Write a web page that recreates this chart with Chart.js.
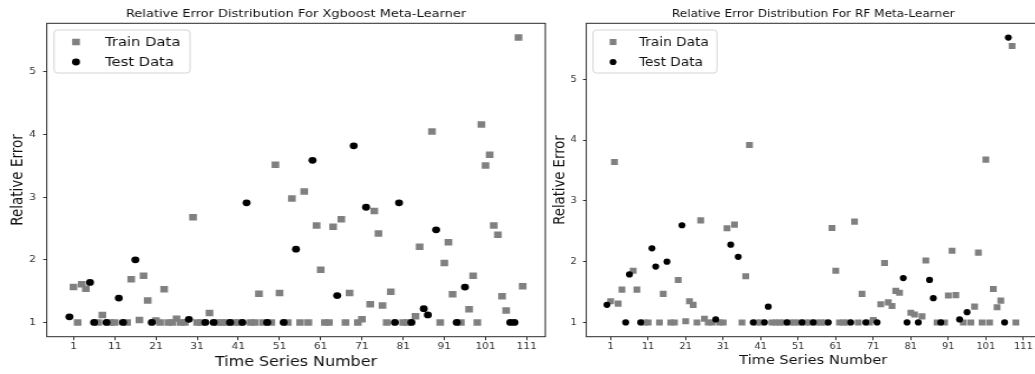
<!DOCTYPE html>
<html>
<head>
<meta charset="utf-8">
<title>Relative Error Distribution</title>
<script src="https://cdn.jsdelivr.net/npm/chart.js@4/dist/chart.umd.min.js"></script>
<style>
    html, body { margin: 0; padding: 0; background: #fff; overflow: hidden; width: 1035px; height: 374px; }
    .panel { position: absolute; top: 0; height: 374px; transform-origin: 0 0; }
    #panelXgb { left: 0; width: 468px; transform: scaleX(1.18); }
    #panelRf { left: 552px; width: 443px; transform: scaleX(1.12); }
    canvas { display: block; }
</style>
</head>
<body>
<div class="panel" id="panelXgb"><canvas id="xgbChart" width="468" height="374"></canvas></div>
<div class="panel" id="panelRf"><canvas id="rfChart" width="443" height="374"></canvas></div>

<script>
// ━━━━━━━━━━━━━━━━━━━━━━━━━━━━━━━━━━━━━━━━━━━━━━━━━━━━━━━━━━━━━━━━━━━━━━━━━━
// DATA — relative error per time series (index 0..n), test series listed apart
// ━━━━━━━━━━━━━━━━━━━━━━━━━━━━━━━━━━━━━━━━━━━━━━━━━━━━━━━━━━━━━━━━━━━━━━━━━━

const seriesTicks = [1, 11, 21, 31, 41, 51, 61, 71, 81, 91, 101, 111];
const errorTicks = [1, 2, 3, 4, 5];

const xgbError = [
    1.09, 1.565, 1.0, 1.61, 1.54, 1.64, 1.0, 1.0, 1.12, 1.0,
    1.0, 1.0, 1.39, 1.0, 1.0, 1.69, 2.0, 1.04, 1.745, 1.35,
    1.0, 1.03, 1.0, 1.53, 1.0, 1.0, 1.06, 1.0, 1.0, 1.05,
    2.68, 1.0, 1.0, 1.0, 1.15, 1.0, 1.0, 1.0, 1.0, 1.0,
    1.0, 1.0, 1.0, 2.91, 1.0, 1.0, 1.46, 1.0, 1.0, 1.0,
    3.52, 1.47, 1.0, 1.0, 2.98, 2.17, 1.0, 3.09, 1.0, 3.59,
    2.55, 1.84, 1.0, 1.0, 2.53, 1.43, 2.65, 1.0, 1.47, 3.82,
    1.0, 1.05, 2.84, 1.29, 2.78, 2.42, 1.27, 1.0, 1.49, 1.0,
    2.91, 1.0, 1.0, 1.0, 1.10, 2.21, 1.22, 1.12, 4.05, 2.48,
    1.0, 1.95, 2.28, 1.45, 1.0, 1.0, 1.565, 1.21, 1.745, 1.0,
    4.16, 3.505, 3.68, 2.55, 2.40, 1.42, 1.19, 1.0, 1.0, 5.55,
    1.58
];
const xgbTestIdx = [0, 5, 6, 9, 12, 13, 16, 20, 29, 33, 35, 39, 42, 43, 48, 52, 55, 59,
    65, 69, 72, 79, 80, 83, 86, 87, 89, 94, 96, 107, 108];

const rfError = [
    1.29, 1.35, 3.64, 1.31, 1.54, 1.0, 1.79, 1.85, 1.54, 1.0,
    1.0, 1.0, 2.22, 1.92, 1.0, 1.47, 2.0, 1.0, 1.0, 1.70,
    2.60, 1.02, 1.35, 1.29, 1.0, 2.68, 1.06, 1.0, 1.0, 1.05,
    1.0, 1.0, 2.55, 2.28, 2.61, 2.08, 1.0, 1.76, 3.92, 1.0,
    1.0, 1.0, 1.0, 1.26, 1.0, 1.0, 1.0, 1.0, 1.0, 1.0,
    1.0, 1.0, 1.0, 1.0, 1.0, 1.0, 1.0, 1.0, 1.0, 1.0,
    2.555, 1.85, 1.0, 1.0, 1.0, 1.0, 2.66, 1.0, 1.47, 1.0,
    1.0, 1.04, 1.0, 1.30, 1.98, 1.33, 1.27, 1.52, 1.49, 1.73,
    1.0, 1.16, 1.13, 1.0, 1.10, 2.02, 1.70, 1.40, 1.0, 1.0,
    1.0, 1.445, 2.18, 1.45, 1.05, 1.0, 1.17, 1.0, 1.26, 2.15,
    1.0, 3.68, 1.0, 1.55, 1.25, 1.36, 1.0, 5.69, 5.55, 1.0
];
const rfTestIdx = [0, 5, 6, 9, 12, 13, 16, 20, 29, 33, 35, 39, 42, 43, 48, 52, 55, 59,
    65, 69, 72, 79, 80, 83, 86, 87, 89, 94, 96, 106, 107];

// ━━━━━━━━━━━━━━━━━━━━━━━━━━━━━━━━━━━━━━━━━━━━━━━━━━━━━━━━━━━━━━━━━━━━━━━━━━
// PLUGINS — matplotlib-like frame and boxed legend
// ━━━━━━━━━━━━━━━━━━━━━━━━━━━━━━━━━━━━━━━━━━━━━━━━━━━━━━━━━━━━━━━━━━━━━━━━━━

const FONT = '"DejaVu Sans", Verdana, sans-serif';

const framePlugin = {
    id: 'frame',
    afterDraw(chart) {
        const { ctx, chartArea: a } = chart;
        ctx.save();
        ctx.strokeStyle = '#2a2a2a';
        ctx.lineWidth = 1;
        ctx.strokeRect(a.left, a.top, a.right - a.left, a.bottom - a.top);
        ctx.restore();
    }
};

const boxLegendPlugin = {
    id: 'boxLegend',
    afterDraw(chart, args, opts) {
        const ctx = chart.ctx;
        const [bx, by, bw, bh] = opts.box;
        ctx.save();
        ctx.beginPath();
        ctx.roundRect(bx, by, bw, bh, 3);
        ctx.fillStyle = 'rgba(255,255,255,0.85)';
        ctx.fill();
        ctx.strokeStyle = '#d4d4d4';
        ctx.lineWidth = 1;
        ctx.stroke();

        ctx.font = opts.fontSize + 'px ' + FONT;
        ctx.textBaseline = 'middle';
        chart.data.datasets.forEach((ds, i) => {
            const y = opts.rows[i];
            const r = ds.pointRadius;
            ctx.fillStyle = ds.backgroundColor;
            ctx.beginPath();
            if (ds.pointStyle === 'rect') {
                const side = r * Math.SQRT2;
                ctx.rect(opts.markerX - side / 2, y - side / 2, side, side);
            } else {
                ctx.arc(opts.markerX, y, r, 0, Math.PI * 2);
            }
            ctx.fill();
            ctx.fillStyle = '#111';
            ctx.fillText(ds.label, opts.textX, y + 1);
        });
        ctx.restore();
    }
};

// ━━━━━━━━━━━━━━━━━━━━━━━━━━━━━━━━━━━━━━━━━━━━━━━━━━━━━━━━━━━━━━━━━━━━━━━━━━
// CHART BUILDER
// ━━━━━━━━━━━━━━━━━━━━━━━━━━━━━━━━━━━━━━━━━━━━━━━━━━━━━━━━━━━━━━━━━━━━━━━━━━

function splitPoints(values, testIdx, wantTest) {
    return values
        .map((v, i) => ({ x: i, y: v }))
        .filter(p => testIdx.includes(p.x) === wantTest);
}

function makeChart(canvasId, values, testIdx, s) {
    const lo = Math.min(...values), hi = Math.max(...values);
    const pad = (hi - lo) * 0.05;

    return new Chart(document.getElementById(canvasId), {
        type: 'scatter',
        data: {
            datasets: [
                {
                    label: 'Train Data',
                    data: splitPoints(values, testIdx, false),
                    pointStyle: 'rect',
                    pointRadius: s.squareR,
                    pointBorderWidth: 0,
                    backgroundColor: '#808080',
                    borderColor: '#808080',
                    order: 2
                },
                {
                    label: 'Test Data',
                    data: splitPoints(values, testIdx, true),
                    pointStyle: 'circle',
                    pointRadius: s.circleR,
                    pointBorderWidth: 0,
                    backgroundColor: '#000000',
                    borderColor: '#000000',
                    order: 1
                }
            ]
        },
        options: {
            responsive: false,
            animation: false,
            events: [],
            layout: {
                autoPadding: false,
                padding: { left: 0, right: s.padRight, top: 0, bottom: 0 }
            },
            plugins: {
                legend: { display: false },
                tooltip: { enabled: false },
                title: {
                    display: true,
                    text: s.title,
                    fullSize: false,
                    color: '#111',
                    font: { family: FONT, size: s.titleSize, weight: 'normal' },
                    padding: { top: s.titlePadTop, bottom: 23.3 - s.titlePadTop - s.titleSize * 1.2 }
                },
                boxLegend: s.legend
            },
            scales: {
                x: {
                    type: 'linear',
                    min: -5.5,
                    max: 115.5,
                    afterBuildTicks: scale => { scale.ticks = seriesTicks.map(v => ({ value: v })); },
                    afterFit: scale => { scale.height = 37.3; },
                    grid: { drawOnChartArea: false, drawTicks: true, tickLength: 3.5, color: '#333', tickColor: '#333' },
                    border: { display: false },
                    ticks: {
                        autoSkip: false,
                        maxRotation: 0,
                        padding: 1.4,
                        color: '#333',
                        font: { family: FONT, size: s.tickSize }
                    },
                    title: {
                        display: true,
                        text: 'Time Series Number',
                        color: '#111',
                        font: { family: FONT, size: s.xLabelSize },
                        padding: { top: 0, bottom: s.xLabelPad }
                    }
                },
                y: {
                    type: 'linear',
                    min: lo - pad,
                    max: hi + pad,
                    afterBuildTicks: scale => { scale.ticks = errorTicks.map(v => ({ value: v })); },
                    afterFit: scale => { scale.width = s.yWidth; },
                    grid: { drawOnChartArea: false, drawTicks: true, tickLength: 3, color: '#333', tickColor: '#333' },
                    border: { display: false },
                    ticks: {
                        padding: s.yTickPad,
                        color: '#333',
                        font: { family: FONT, size: s.tickSize }
                    },
                    title: {
                        display: true,
                        text: 'Relative Error',
                        color: '#111',
                        font: { family: FONT, size: s.yLabelSize },
                        padding: { top: s.yLabelPad, bottom: 0 }
                    }
                }
            }
        },
        plugins: [framePlugin, boxLegendPlugin]
    });
}

makeChart('xgbChart', xgbError, xgbTestIdx, {
    title: 'Relative Error Distribution For Xgboost Meta-Learner',
    titleSize: 11, titlePadTop: 7.4,
    tickSize: 9, xLabelSize: 13.5, xLabelPad: 3.9,
    yLabelSize: 13.5, yLabelPad: 7.8,
    yWidth: 39.6, yTickPad: 6, padRight: 5.9,
    squareR: 4.6, circleR: 3.4,
    legend: { box: [45.8, 30, 115.2, 43], rows: [42, 62], markerX: 64.4, textX: 89, fontSize: 12.5 }
});

makeChart('rfChart', rfError, rfTestIdx, {
    title: 'Relative Error Distribution For RF Meta-Learner',
    titleSize: 10.8, titlePadTop: 7.5,
    tickSize: 8.8, xLabelSize: 13, xLabelPad: 5.2,
    yLabelSize: 13.2, yLabelPad: 0.1,
    yWidth: 30.6, yTickPad: 5.5, padRight: 7.1,
    squareR: 4.3, circleR: 3.1,
    legend: { box: [36.6, 30, 110.7, 43], rows: [42, 62], markerX: 54.5, textX: 77.7, fontSize: 12.2 }
});
</script>
</body>
</html>
